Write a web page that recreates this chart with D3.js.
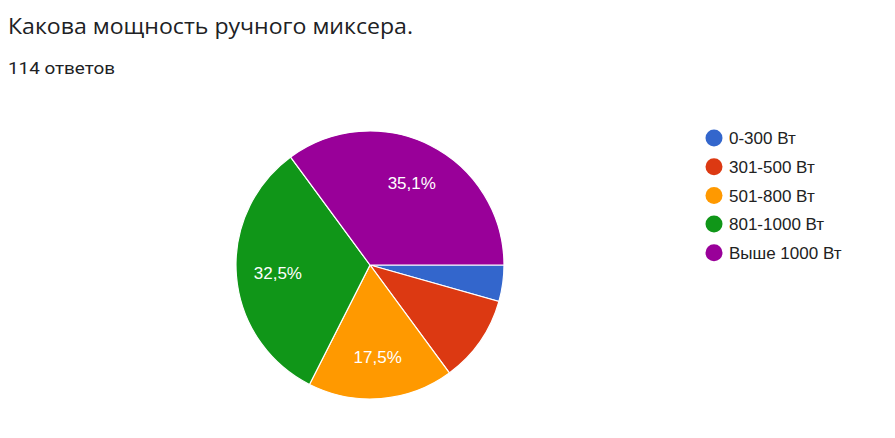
<!DOCTYPE html>
<html lang="ru">
<head>
<meta charset="UTF-8">
<title>Какова мощность ручного миксера.</title>
<script src="https://cdn.jsdelivr.net/npm/d3@7/dist/d3.min.js"></script>
<style>
  body { margin:0; background:#fff; }
  .title { font-family:"Open Sans", sans-serif; fill:#202124; }
  .sub { font-family:Roboto, sans-serif; fill:#202124; }
  .legend text, .slice-label { font-family:"Liberation Sans", Arial, sans-serif; }
</style>
</head>
<body>
<svg id="chart" width="895" height="438"></svg>
<script>
  // answers (count of responses out of 114)
  var categories = ["0-300 Вт", "301-500 Вт", "501-800 Вт", "801-1000 Вт", "Выше 1000 Вт"];
  var counts = [5, 12, 20, 37, 40];
  var colors = ["#3366cc", "#dc3912", "#ff9900", "#109618", "#990099"];
  var total = 114;

  var svg = d3.select("#chart");

  svg.append("text").attr("class", "title")
    .attr("x", 8).attr("y", 34)
    .style("font-size", "22.5px")
    .attr("textLength", 405).attr("lengthAdjust", "spacingAndGlyphs")
    .text("Какова мощность ручного миксера.");

  svg.append("text").attr("class", "sub")
    .attr("x", 8).attr("y", 74)
    .style("font-size", "17px")
    .attr("textLength", 107).attr("lengthAdjust", "spacingAndGlyphs")
    .text(total + " ответов");

  var cx = 370, cy = 265, r = 134;

  var data = categories.map(function(c, i) { return { name:c, value:counts[i], color:colors[i] }; });

  // slices start at 3 o'clock and run clockwise
  var pie = d3.pie().value(function(d) { return d.value; }).sort(null)
    .startAngle(Math.PI / 2).endAngle(Math.PI / 2 + 2 * Math.PI);
  var arc = d3.arc().innerRadius(0).outerRadius(r);
  var labelArc = d3.arc().innerRadius(r * 0.69).outerRadius(r * 0.69);

  var g = svg.append("g").attr("transform", "translate(" + cx + "," + cy + ")");
  var arcs = pie(data);

  g.selectAll("path").data(arcs).enter().append("path")
    .attr("d", arc)
    .attr("fill", function(d) { return d.data.color; })
    .attr("stroke", "#fff")
    .attr("stroke-width", 1.2);

  // google hides labels on small slices
  g.selectAll(".slice-label").data(arcs.filter(function(d) { return d.data.value / total > 0.12; }))
    .enter().append("text").attr("class", "slice-label")
    .attr("transform", function(d) { return "translate(" + labelArc.centroid(d) + ")"; })
    .attr("text-anchor", "middle")
    .attr("dy", "0.36em")
    .attr("fill", "#fff")
    .style("font-size", "17px")
    .text(function(d) { return (d.data.value / total * 100).toFixed(1).replace(".", ",") + "%"; });

  var legend = svg.append("g").attr("class", "legend");
  var row = legend.selectAll("g").data(data).enter().append("g")
    .attr("transform", function(d, i) { return "translate(714," + (138 + i * 28.7) + ")"; });
  row.append("circle").attr("r", 8.5).attr("fill", function(d) { return d.color; });
  row.append("text").attr("x", 15).attr("dy", "0.36em")
    .attr("fill", "#222")
    .style("font-size", "17px")
    .text(function(d) { return d.name; });
</script>
</body>
</html>
